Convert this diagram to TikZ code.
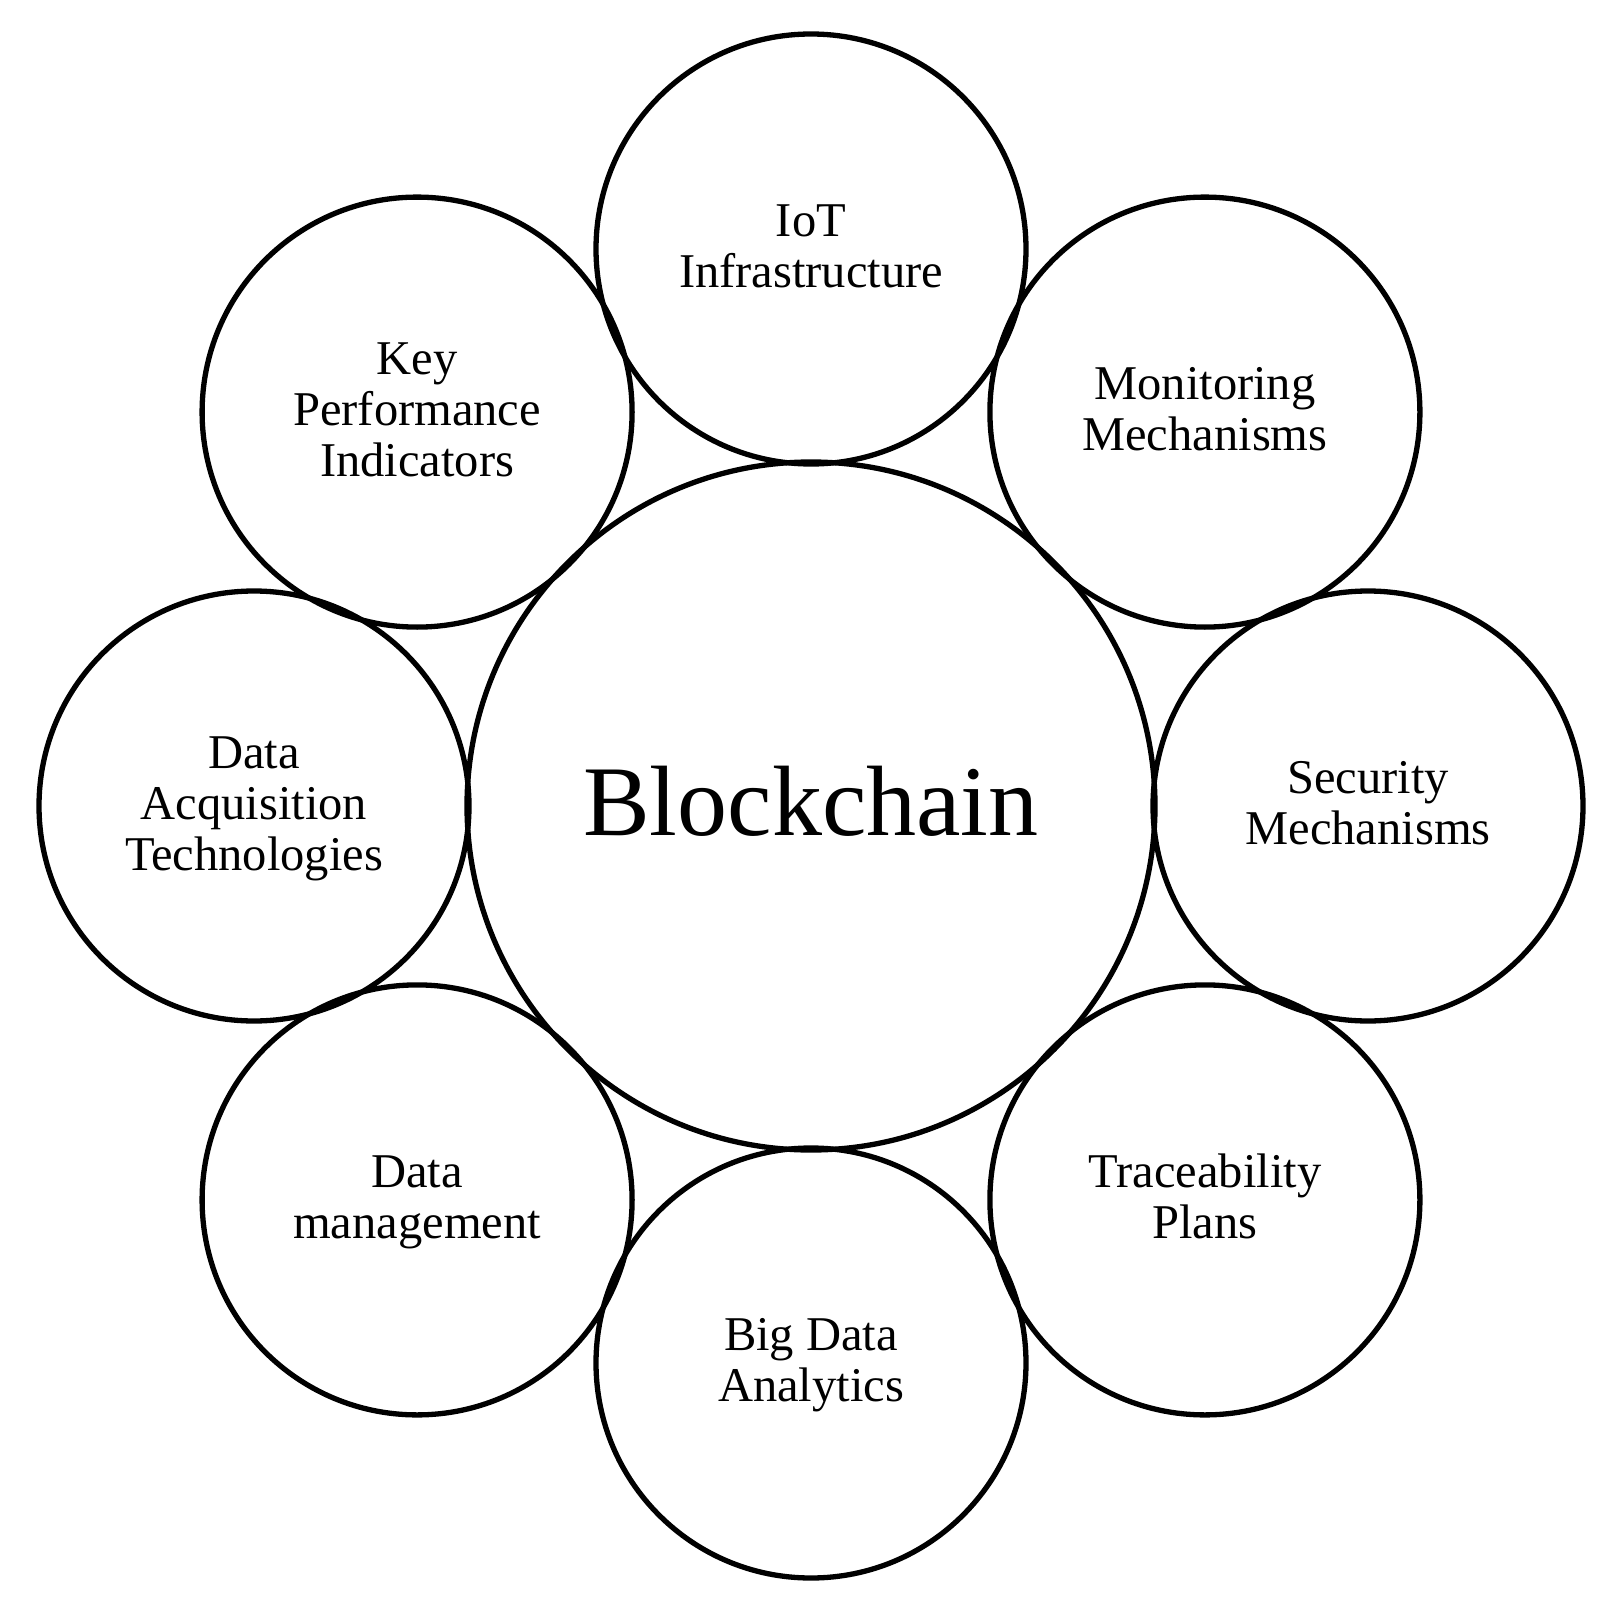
\documentclass[tikz,border=0pt]{standalone}
\usepackage{fontspec}
\setmainfont{Liberation Serif}
\newcommand\lstr{\rule[-12pt]{0pt}{50pt}}
\newcommand\bstr{\rule[-22pt]{0pt}{102pt}}
\begin{document}
\begin{tikzpicture}[x=1pt,y=-1pt,
  ring/.style={circle,draw=black,line width=5.3pt,inner sep=0pt,minimum size=430pt,
    align=center,font=\fontsize{48.5}{51}\selectfont},
  hub/.style={circle,draw=black,line width=5.3pt,inner sep=0pt,minimum size=688pt,
    font=\fontsize{100}{110}\selectfont}]
\useasboundingbox (0,0) rectangle (1615,1608);
\node[hub] (hub) at (811,806) {\bstr Blockchain};
\node[ring] (iot) at (811,249) {\lstr IoT\\\lstr Infrastructure};
\node[ring] (mon) at (1204.9,412.1) {\lstr Monitoring\\\lstr Mechanisms};
\node[ring] (sec) at (1368,806) {\lstr Security\\\lstr Mechanisms};
\node[ring] (tra) at (1204.9,1199.9) {\lstr Traceability\\\lstr Plans};
\node[ring] (big) at (811,1363) {\lstr Big Data\\\lstr Analytics};
\node[ring] (dm) at (417.1,1199.9) {\lstr Data\\\lstr management};
\node[ring] (dat) at (254,806) {\lstr Data\\\lstr Acquisition\\\lstr Technologies};
\node[ring] (kpi) at (417.1,412.1) {\lstr Key\\\lstr Performance\\\lstr Indicators};
\end{tikzpicture}
\end{document}
